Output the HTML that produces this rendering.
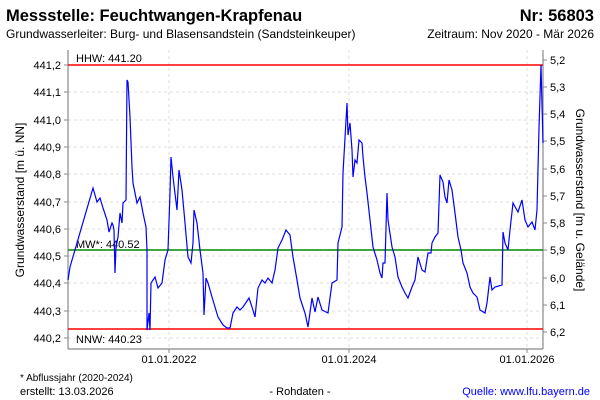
<!DOCTYPE html>
<html><head><meta charset="utf-8"><style>
body{margin:0;background:#fff;}
svg{display:block;font-family:"Liberation Sans",sans-serif;}
</style></head><body>
<svg width="600" height="400" viewBox="0 0 600 400">
<rect width="600" height="400" fill="#fff"/>
<text x="6" y="21" font-size="16.5" font-weight="bold" fill="#000">Messstelle: Feuchtwangen-Krapfenau</text>
<text x="594" y="21" font-size="16.5" font-weight="bold" text-anchor="end">Nr: 56803</text>
<text x="6" y="38" font-size="12">Grundwasserleiter:  Burg- und Blasensandstein (Sandsteinkeuper)</text>
<text x="594" y="38" font-size="12" text-anchor="end">Zeitraum: Nov 2020 - Mär 2026</text>
<g stroke="#ddd" stroke-dasharray="3,3" stroke-width="1">
<line x1="68" x2="543" y1="92" y2="92"/><line x1="68" x2="543" y1="120" y2="120"/><line x1="68" x2="543" y1="147" y2="147"/><line x1="68" x2="543" y1="174" y2="174"/><line x1="68" x2="543" y1="202" y2="202"/><line x1="68" x2="543" y1="229" y2="229"/><line x1="68" x2="543" y1="256" y2="256"/><line x1="68" x2="543" y1="283" y2="283"/><line x1="68" x2="543" y1="311" y2="311"/><line x1="68" x2="543" y1="338" y2="338"/>
<line x1="169" x2="169" y1="50" y2="349"/><line x1="349" x2="349" y1="50" y2="349"/><line x1="527" x2="527" y1="50" y2="349"/>
</g>
<g stroke="#888" stroke-width="1.2" fill="none">
<line x1="68" y1="50" x2="68" y2="349"/><line x1="68" y1="349" x2="543" y2="349"/><line x1="543" y1="50" x2="543" y2="349"/>
</g>
<g stroke="#888" stroke-width="1">
<line x1="64" x2="68" y1="65" y2="65"/><line x1="64" x2="68" y1="92" y2="92"/><line x1="64" x2="68" y1="120" y2="120"/><line x1="64" x2="68" y1="147" y2="147"/><line x1="64" x2="68" y1="174" y2="174"/><line x1="64" x2="68" y1="202" y2="202"/><line x1="64" x2="68" y1="229" y2="229"/><line x1="64" x2="68" y1="256" y2="256"/><line x1="64" x2="68" y1="283" y2="283"/><line x1="64" x2="68" y1="311" y2="311"/><line x1="64" x2="68" y1="338" y2="338"/>
<line x1="543" x2="547" y1="60" y2="60"/><line x1="543" x2="547" y1="87" y2="87"/><line x1="543" x2="547" y1="114" y2="114"/><line x1="543" x2="547" y1="141" y2="141"/><line x1="543" x2="547" y1="169" y2="169"/><line x1="543" x2="547" y1="196" y2="196"/><line x1="543" x2="547" y1="223" y2="223"/><line x1="543" x2="547" y1="250" y2="250"/><line x1="543" x2="547" y1="278" y2="278"/><line x1="543" x2="547" y1="305" y2="305"/><line x1="543" x2="547" y1="332" y2="332"/>
<line x1="169" x2="169" y1="349" y2="353"/><line x1="349" x2="349" y1="349" y2="353"/><line x1="527" x2="527" y1="349" y2="353"/>
</g>
<g font-size="11" text-anchor="end">
<text x="61" y="69">441,2</text><text x="61" y="96">441,1</text><text x="61" y="124">441,0</text><text x="61" y="151">440,9</text><text x="61" y="178">440,8</text><text x="61" y="206">440,7</text><text x="61" y="233">440,6</text><text x="61" y="260">440,5</text><text x="61" y="287">440,4</text><text x="61" y="315">440,3</text><text x="61" y="342">440,2</text>
</g>
<g font-size="11">
<text x="550" y="64">5,2</text><text x="550" y="91">5,3</text><text x="550" y="118">5,4</text><text x="550" y="145">5,5</text><text x="550" y="173">5,6</text><text x="550" y="200">5,7</text><text x="550" y="227">5,8</text><text x="550" y="254">5,9</text><text x="550" y="282">6,0</text><text x="550" y="309">6,1</text><text x="550" y="336">6,2</text>
</g>
<g font-size="11" text-anchor="middle">
<text x="169" y="363">01.01.2022</text><text x="349" y="363">01.01.2024</text><text x="527" y="363">01.01.2026</text>
</g>
<text transform="translate(24,200) rotate(-90)" font-size="12" text-anchor="middle">Grundwasserstand [m ü. NN]</text>
<text transform="translate(576,200) rotate(90)" font-size="12" text-anchor="middle">Grundwasserstand [m u. Gelände]</text>
<line x1="68" x2="543" y1="65" y2="65" stroke="#f00" stroke-width="1.5"/>
<line x1="68" x2="543" y1="329" y2="329" stroke="#f00" stroke-width="1.5"/>
<line x1="68" x2="543" y1="250" y2="250" stroke="#080" stroke-width="1.5"/>
<text x="76" y="62" font-size="11">HHW: 441.20</text>
<text x="76" y="343" font-size="11">NNW: 440.23</text>
<text x="76" y="248" font-size="11">MW*: 440.52</text>
<polyline fill="none" stroke="#00f" stroke-width="1.2" points="68,280 70,267 93,188 97,202 100,198 103,208 107,220 109,232 112,223 113,225 114,230 115,273 116,247 118,237 120,213 122,223 123,203 126,200 127,80 128,82 130,117 132,167 133,183 137,203 140,197 143,213 146,227 147,250 147,330 149,313 150,330 151,283 155,277 158,288 162,283 165,260 168,250 170,193 171,157 173,177 177,210 179,170 182,190 185,223 188,257 191,263 193,243 194,210 197,223 200,250 203,273 204,315 206,278 208,283 212,297 215,307 218,317 223,325 227,328 230,328 233,313 237,307 240,310 243,307 249,298 252,307 255,317 258,288 262,280 265,283 268,278 272,283 275,270 278,248 282,240 286,230 290,235 293,257 297,280 300,298 305,313 308,327 312,298 315,312 318,297 322,310 328,313 332,283 337,280 338,243 342,227 343,173 347,103 348,135 350,123 352,150 353,177 355,160 357,163 359,140 362,143 363,157 365,177 367,193 370,220 373,247 377,260 380,273 382,278 383,263 385,263 387,193 388,220 392,247 395,257 398,277 402,287 405,293 408,298 412,287 415,280 418,257 422,270 425,272 428,253 431,253 432,243 435,237 438,233 440,175 443,182 445,197 447,203 449,180 452,190 455,213 458,237 461,250 463,263 467,273 470,287 473,293 477,297 480,310 485,313 487,303 490,277 492,290 495,287 502,285 503,232 505,243 508,250 510,230 513,203 518,212 522,200 525,220 528,227 532,222 535,230 537,210 539,128 541,65 543,143"/>
<text x="20" y="381" font-size="10">* Abflussjahr (2020-2024)</text>
<text x="20" y="395" font-size="11">erstellt:  13.03.2026</text>
<text x="300" y="395" font-size="11" text-anchor="middle">- Rohdaten -</text>
<text x="590" y="395" font-size="11" text-anchor="end" fill="#00f">Quelle: www.lfu.bayern.de</text>
</svg>
</body></html>
